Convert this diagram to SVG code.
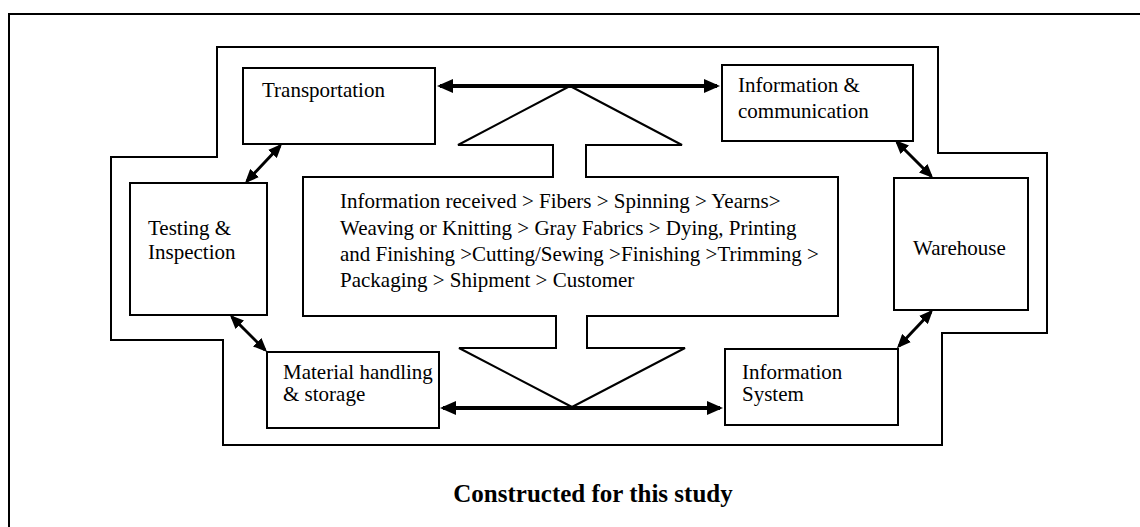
<svg xmlns="http://www.w3.org/2000/svg" width="1140" height="527" viewBox="0 0 1140 527">
<defs>
<style>
.box{fill:#fff;stroke:#000;stroke-width:2}
.ln{fill:none;stroke:#000;stroke-width:2}
.t{font-family:"Liberation Serif","Times New Roman",serif;font-size:21px;fill:#000}
.cap{font-family:"Liberation Serif","Times New Roman",serif;font-size:25px;font-weight:bold;fill:#000}
.hz{stroke:#000;stroke-width:4;fill:none}
.dg{stroke:#000;stroke-width:3;fill:none}
</style>
<marker id="ah" markerUnits="userSpaceOnUse" markerWidth="16" markerHeight="14" refX="13" refY="7" orient="auto-start-reverse" viewBox="0 0 16 14">
<path d="M0,0 L16,7 L0,14 z" fill="#000"/>
</marker>
<marker id="ad" markerUnits="userSpaceOnUse" markerWidth="14" markerHeight="12" refX="11" refY="6" orient="auto-start-reverse" viewBox="0 0 14 12">
<path d="M0,0 L14,6 L0,12 z" fill="#000"/>
</marker>
</defs>
<rect width="1140" height="527" fill="#fff"/>
<path class="ln" d="M9,527 V14 H1140"/>
<g id="container">
<polygon class="ln" points="217,47 938,47 938,153 1047,153 1047,333 942,333 942,445 223,445 223,340 111,340 111,157 217,157"/>
</g>
<g id="process">
<polygon class="box" points="303,177 553,177 553,145 458,145 570,86 682,145 586,145 586,177 838,177 838,316 587,316 587,348 685,348 572,407 459,348 556,348 556,316 303,316"/>
<text class="t" x="340" y="208">Information received &gt; Fibers &gt; Spinning &gt; Yearns&gt;</text>
<text class="t" x="340" y="234.5">Weaving or Knitting &gt; Gray Fabrics &gt; Dying, Printing</text>
<text class="t" x="340" y="261">and Finishing &gt;Cutting/Sewing &gt;Finishing &gt;Trimming &gt;</text>
<text class="t" x="340" y="287">Packaging &gt; Shipment &gt; Customer</text>
</g>
<g id="transportation">
<rect class="box" x="243" y="68" width="192" height="76"/>
<text class="t" x="262" y="97">Transportation</text>
</g>
<g id="info-comm">
<rect class="box" x="722" y="65" width="191" height="76"/>
<text class="t" x="738" y="92">Information &amp;</text>
<text class="t" x="738" y="118">communication</text>
</g>
<g id="testing">
<rect class="box" x="130" y="183" width="137" height="132"/>
<text class="t" x="148" y="235">Testing &amp;</text>
<text class="t" x="148" y="259">Inspection</text>
</g>
<g id="warehouse">
<rect class="box" x="894" y="178" width="134" height="132"/>
<text class="t" x="913" y="255">Warehouse</text>
</g>
<g id="material">
<rect class="box" x="267" y="352" width="172" height="76"/>
<text class="t" x="283" y="379">Material handling</text>
<text class="t" x="283" y="401">&amp; storage</text>
</g>
<g id="info-system">
<rect class="box" x="725" y="349" width="173" height="76"/>
<text class="t" x="742" y="379">Information</text>
<text class="t" x="742" y="401">System</text>
</g>
<g id="connectors">
<line class="hz" x1="440" y1="86" x2="717" y2="86" marker-start="url(#ah)" marker-end="url(#ah)"/>
<line class="hz" x1="443" y1="408" x2="720" y2="408" marker-start="url(#ah)" marker-end="url(#ah)"/>
<line class="dg" x1="280" y1="146" x2="247" y2="181" marker-start="url(#ad)" marker-end="url(#ad)"/>
<line class="dg" x1="232" y1="317" x2="265" y2="350" marker-start="url(#ad)" marker-end="url(#ad)"/>
<line class="dg" x1="897" y1="142" x2="931" y2="176" marker-start="url(#ad)" marker-end="url(#ad)"/>
<line class="dg" x1="931" y1="312" x2="899" y2="346" marker-start="url(#ad)" marker-end="url(#ad)"/>
</g>
<text class="cap" x="593" y="502" text-anchor="middle">Constructed for this study</text>
</svg>
